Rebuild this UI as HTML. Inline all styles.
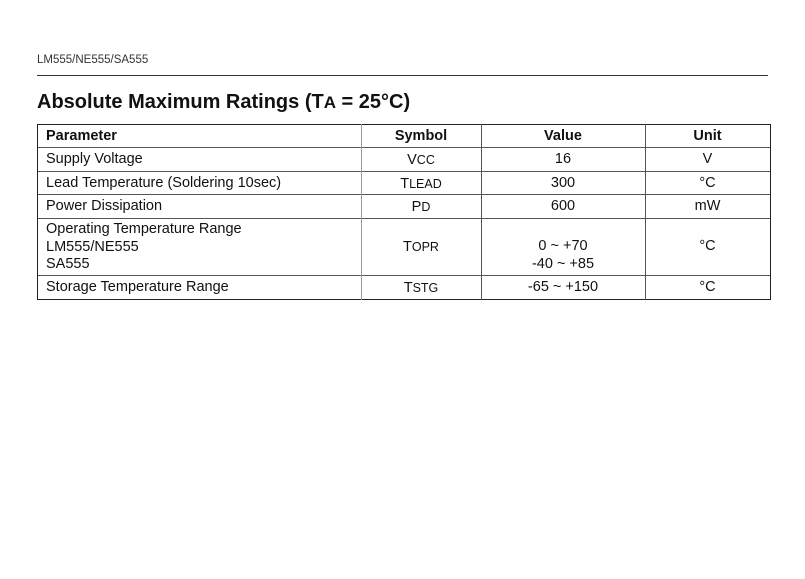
<!DOCTYPE html>
<html><head><meta charset="utf-8">
<style>
body{margin:0;width:805px;height:579px;background:#fff;position:relative;overflow:hidden;font-family:"Liberation Sans",Arial,sans-serif;color:#111}
.a{position:absolute;white-space:nowrap}
.h{position:absolute;height:1px;background:#555}
.v{position:absolute;width:1px;background:#555}
.t{position:absolute;font-size:14.5px;line-height:17px;white-space:nowrap}
.c{text-align:center}
small{font-size:12.5px}
</style></head><body>
<div class="a" style="left:37px;top:54px;font-size:11.5px;color:#333">LM555/NE555/SA555</div>
<div class="h" style="left:37px;top:75px;width:731px;background:#333"></div>
<div class="a" style="left:37px;top:91px;font-size:20px;font-weight:bold">Absolute Maximum Ratings (T<span style="font-size:17px">A</span> = 25°C)</div>

<div>
<div class="h" style="left:37px;top:124px;width:733px;background:#222"></div>
<div class="h" style="left:37px;top:147px;width:733px"></div>
<div class="h" style="left:37px;top:171px;width:733px"></div>
<div class="h" style="left:37px;top:194px;width:733px"></div>
<div class="h" style="left:37px;top:218px;width:733px"></div>
<div class="h" style="left:37px;top:275px;width:733px"></div>
<div class="h" style="left:37px;top:299px;width:734px;background:#222"></div>
<div class="v" style="left:37px;top:124px;height:176px;background:#222"></div>
<div class="v" style="left:361px;top:124px;height:176px;background:#999"></div>
<div class="v" style="left:481px;top:124px;height:176px"></div>
<div class="v" style="left:645px;top:124px;height:176px"></div>
<div class="v" style="left:770px;top:124px;height:176px;background:#222"></div>

<div class="t" style="left:46px;top:128px;font-weight:bold">Parameter</div>
<div class="t c" style="left:361px;width:120px;top:128px;font-weight:bold">Symbol</div>
<div class="t c" style="left:481px;width:164px;top:128px;font-weight:bold">Value</div>
<div class="t c" style="left:645px;width:125px;top:128px;font-weight:bold">Unit</div>

<div class="t" style="left:46px;top:151px">Supply Voltage</div>
<div class="t c" style="left:361px;width:120px;top:152px">V<small>CC</small></div>
<div class="t c" style="left:481px;width:164px;top:151px">16</div>
<div class="t c" style="left:645px;width:125px;top:151px">V</div>

<div class="t" style="left:46px;top:175px">Lead Temperature (Soldering 10sec)</div>
<div class="t c" style="left:361px;width:120px;top:176px">T<small>LEAD</small></div>
<div class="t c" style="left:481px;width:164px;top:175px">300</div>
<div class="t c" style="left:645px;width:125px;top:175px">°C</div>

<div class="t" style="left:46px;top:198px">Power Dissipation</div>
<div class="t c" style="left:361px;width:120px;top:199px">P<small>D</small></div>
<div class="t c" style="left:481px;width:164px;top:198px">600</div>
<div class="t c" style="left:645px;width:125px;top:198px">mW</div>

<div class="t" style="left:46px;top:221px;line-height:17.5px">Operating Temperature Range<br>LM555/NE555<br>SA555</div>
<div class="t c" style="left:361px;width:120px;top:239px">T<small>OPR</small></div>
<div class="t c" style="left:481px;width:164px;top:238px;line-height:17.5px">0 ~ +70<br>-40 ~ +85</div>
<div class="t c" style="left:645px;width:125px;top:238px">°C</div>

<div class="t" style="left:46px;top:279px">Storage Temperature Range</div>
<div class="t c" style="left:361px;width:120px;top:280px">T<small>STG</small></div>
<div class="t c" style="left:481px;width:164px;top:279px">-65 ~ +150</div>
<div class="t c" style="left:645px;width:125px;top:279px">°C</div>
</div>
</body></html>
